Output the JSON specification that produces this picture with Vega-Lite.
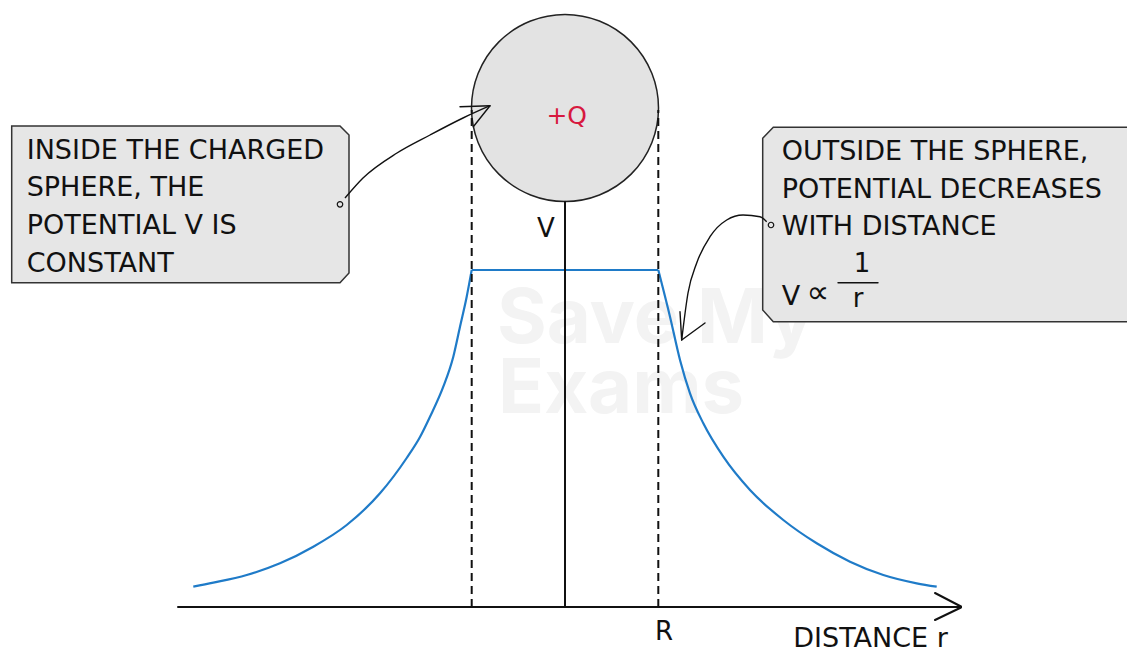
{
  "$schema": "https://vega.github.io/schema/vega-lite/v6.json",
  "width": 1127,
  "height": 652,
  "autosize": {"type": "fit", "contains": "padding"},
  "padding": 0,
  "background": "white",
  "config": {"view": {"stroke": null}},
  "datasets": {
    "watermark": [
      {"x": -68, "y": 264, "label": "Save My"},
      {"x": -67, "y": 194, "label": "Exams"}
    ],
    "boxes": [
      {"box": "L", "x": -553.3, "y": 481, "y2": 324.3},
      {"box": "L", "x": -225, "y": 481, "y2": 324.3},
      {"box": "L", "x": -216, "y": 472, "y2": 334},
      {"box": "R", "x": 197.7, "y": 468.7, "y2": 297},
      {"box": "R", "x": 208.3, "y": 479.7, "y2": 285.3},
      {"box": "R", "x": 575, "y": 479.7, "y2": 285.3}
    ],
    "sphere": [{"x": 0, "y": 499}],
    "curve": [
      {"seg": "L", "x": -371.7, "y": 20.3}, {"seg": "L", "x": -351.7, "y": 24.3}, {"seg": "L", "x": -318.3, "y": 32},
      {"seg": "L", "x": -285, "y": 43.7}, {"seg": "L", "x": -251.7, "y": 60.3}, {"seg": "L", "x": -218.3, "y": 82},
      {"seg": "L", "x": -185, "y": 113.7}, {"seg": "L", "x": -158.3, "y": 149}, {"seg": "L", "x": -145, "y": 170},
      {"seg": "L", "x": -135, "y": 190.3}, {"seg": "L", "x": -121.7, "y": 220.3}, {"seg": "L", "x": -111.7, "y": 250.3},
      {"seg": "L", "x": -105, "y": 280.3}, {"seg": "L", "x": -98.3, "y": 310.3}, {"seg": "L", "x": -93.3, "y": 337},
      {"seg": "F", "x": -93.3, "y": 337}, {"seg": "F", "x": 93.3, "y": 337},
      {"seg": "R", "x": 93.3, "y": 337}, {"seg": "R", "x": 105, "y": 290.3}, {"seg": "R", "x": 115, "y": 247},
      {"seg": "R", "x": 125, "y": 213.7}, {"seg": "R", "x": 138.3, "y": 183.7}, {"seg": "R", "x": 158.3, "y": 150.3},
      {"seg": "R", "x": 185, "y": 117}, {"seg": "R", "x": 218.3, "y": 87}, {"seg": "R", "x": 251.7, "y": 63.7},
      {"seg": "R", "x": 285, "y": 45.3}, {"seg": "R", "x": 318.3, "y": 32}, {"seg": "R", "x": 351.7, "y": 23.7},
      {"seg": "R", "x": 371.7, "y": 20.3}
    ],
    "axes": [
      {"x": -387, "y": 0, "x2": 396, "y2": 0},
      {"x": 0, "y": 0, "x2": 0, "y2": 405.3},
      {"x": 370, "y": 14, "x2": 396, "y2": 0.5},
      {"x": 370, "y": -13, "x2": 396, "y2": -0.5}
    ],
    "dashed": [
      {"x": -93.3, "y": 0, "x2": -93.3, "y2": 497},
      {"x": 93.3, "y": 0, "x2": 93.3, "y2": 497}
    ],
    "thin": [
      {"x": -105, "y": 500.3, "x2": -75, "y2": 501.3},
      {"x": -75, "y": 501.3, "x2": -91.7, "y2": 480.3},
      {"x": 116.7, "y": 267, "x2": 115, "y2": 295.3},
      {"x": 116.7, "y": 267, "x2": 140, "y2": 284},
      {"x": 273, "y": 324.3, "x2": 313, "y2": 324.3}
    ],
    "pointers": [
      {"arrow": "A", "x": -220, "y": 409}, {"arrow": "A", "x": -202, "y": 429}, {"arrow": "A", "x": -168, "y": 454},
      {"arrow": "A", "x": -135, "y": 472}, {"arrow": "A", "x": -102, "y": 489}, {"arrow": "A", "x": -75, "y": 501.3},
      {"arrow": "B", "x": 116.7, "y": 267}, {"arrow": "B", "x": 123, "y": 314}, {"arrow": "B", "x": 131.7, "y": 344},
      {"arrow": "B", "x": 145, "y": 370.3}, {"arrow": "B", "x": 161.7, "y": 387}, {"arrow": "B", "x": 178, "y": 392},
      {"arrow": "B", "x": 195, "y": 390.3}, {"arrow": "B", "x": 201.7, "y": 385.3}
    ],
    "dots": [{"x": -225, "y": 402.7}, {"x": 206, "y": 382}],
    "boxText": [
      {"x": -538.3, "y": 448.5, "label": "INSIDE THE CHARGED"},
      {"x": -538.3, "y": 411, "label": "SPHERE, THE"},
      {"x": -538.3, "y": 373.5, "label": "POTENTIAL V IS"},
      {"x": -538.3, "y": 335.5, "label": "CONSTANT"},
      {"x": 216.7, "y": 447, "label": "OUTSIDE THE SPHERE,"},
      {"x": 216.7, "y": 409, "label": "POTENTIAL DECREASES"},
      {"x": 216.7, "y": 372, "label": "WITH DISTANCE"},
      {"x": 216.7, "y": 302, "label": "V"},
      {"x": 228.3, "y": -39.7, "label": "DISTANCE r"}
    ],
    "propto": [{"x": 253, "y": 304, "label": "∝"}],
    "centerText": [
      {"x": -19, "y": 370.3, "label": "V"},
      {"x": 99, "y": -33, "label": "R"},
      {"x": 297, "y": 335, "label": "1"},
      {"x": 293, "y": 300, "label": "r"}
    ],
    "charge": [{"x": 1.7, "y": 483, "label": "+Q"}]
  },
  "encoding": {
    "x": {"field": "x", "type": "quantitative", "axis": null, "scale": {"domain": [-565, 562], "nice": false, "zero": false}},
    "y": {"field": "y", "type": "quantitative", "axis": null, "scale": {"domain": [-45, 607], "nice": false, "zero": false}}
  },
  "layer": [
    {
      "data": {"name": "watermark"},
      "mark": {"type": "text", "align": "left", "baseline": "alphabetic", "font": "Inter", "fontWeight": "bold", "fontSize": 76, "color": "#f3f3f3"},
      "encoding": {"text": {"field": "label"}}
    },
    {
      "data": {"name": "boxes"},
      "mark": {"type": "area", "fill": "#e6e6e6", "stroke": "#333333", "strokeWidth": 1.5, "interpolate": "linear", "opacity": 1, "clip": true},
      "encoding": {"y2": {"field": "y2"}, "detail": {"field": "box"}}
    },
    {
      "data": {"name": "sphere"},
      "mark": {"type": "point", "shape": "circle", "size": 34969, "filled": true, "fill": "#e3e3e3", "stroke": "#222222", "strokeWidth": 1.5, "opacity": 1},
      "encoding": {}
    },
    {
      "data": {"name": "curve"},
      "mark": {"type": "line", "color": "#1f7bc8", "strokeWidth": 2.2, "interpolate": "monotone"},
      "encoding": {"detail": {"field": "seg"}}
    },
    {
      "data": {"name": "axes"},
      "mark": {"type": "rule", "color": "#111111", "strokeWidth": 2, "strokeCap": "round"},
      "encoding": {"x2": {"field": "x2"}, "y2": {"field": "y2"}}
    },
    {
      "data": {"name": "dashed"},
      "mark": {"type": "rule", "color": "#111111", "strokeWidth": 2, "strokeDash": [8, 5]},
      "encoding": {"x2": {"field": "x2"}, "y2": {"field": "y2"}}
    },
    {
      "data": {"name": "thin"},
      "mark": {"type": "rule", "color": "#111111", "strokeWidth": 1.4, "strokeCap": "round"},
      "encoding": {"x2": {"field": "x2"}, "y2": {"field": "y2"}}
    },
    {
      "data": {"name": "pointers"},
      "mark": {"type": "line", "color": "#111111", "strokeWidth": 1.4, "interpolate": "monotone"},
      "encoding": {"detail": {"field": "arrow"}}
    },
    {
      "data": {"name": "dots"},
      "mark": {"type": "point", "shape": "circle", "size": 30, "filled": false, "stroke": "#111111", "strokeWidth": 1.2, "opacity": 1},
      "encoding": {}
    },
    {
      "data": {"name": "boxText"},
      "mark": {"type": "text", "align": "left", "baseline": "alphabetic", "font": "DejaVu Sans", "fontSize": 27, "color": "#111111"},
      "encoding": {"text": {"field": "label"}}
    },
    {
      "data": {"name": "propto"},
      "mark": {"type": "text", "align": "center", "baseline": "alphabetic", "font": "DejaVu Sans", "fontSize": 32, "color": "#111111"},
      "encoding": {"text": {"field": "label"}}
    },
    {
      "data": {"name": "centerText"},
      "mark": {"type": "text", "align": "center", "baseline": "alphabetic", "font": "DejaVu Sans", "fontSize": 26, "color": "#111111"},
      "encoding": {"text": {"field": "label"}}
    },
    {
      "data": {"name": "charge"},
      "mark": {"type": "text", "align": "center", "baseline": "alphabetic", "font": "DejaVu Sans", "fontSize": 25, "color": "#d7193f"},
      "encoding": {"text": {"field": "label"}}
    }
  ]
}
